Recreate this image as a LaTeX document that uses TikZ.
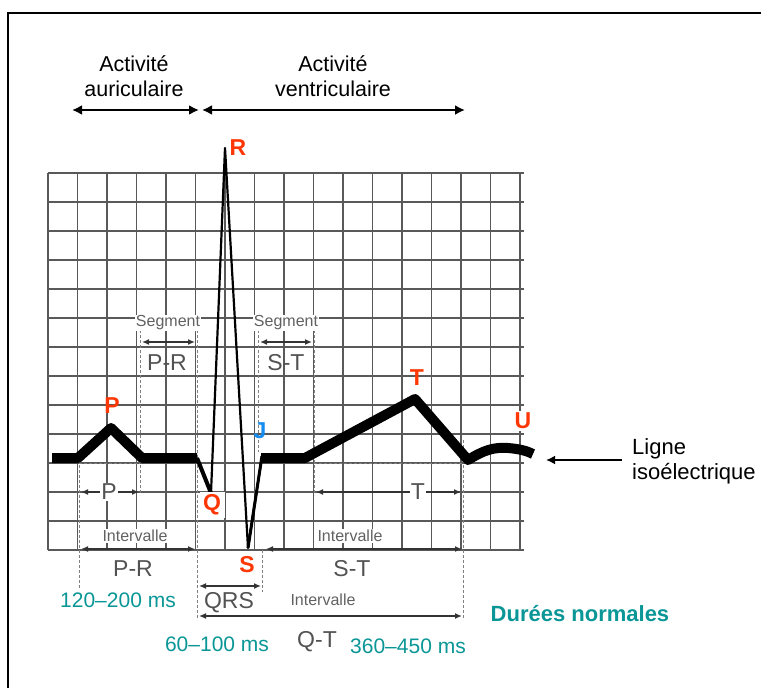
\documentclass[tikz,border=0pt]{standalone}
\usepackage{fontspec}
\setmainfont{Liberation Sans}
\usetikzlibrary{arrows.meta}
\begin{document}
\begin{tikzpicture}[x=1pt, y=-1pt,
    gridline/.style={draw=black!65, line width=1.1pt},
    guide/.style={draw=black!50, line width=0.9pt, dash pattern=on 3pt off 2pt},
    dimarrow/.style={draw=black!80, line width=1.8pt, {Latex[length=7pt,width=6pt]}-{Latex[length=7pt,width=6pt]}},
    bigarrow/.style={line width=2.8pt, {Latex[length=10pt,width=10pt]}-{Latex[length=10pt,width=10pt]}},
    peak/.style={text=mypeak, font=\fontsize{23}{23}\selectfont\bfseries, inner sep=1.5pt},
    greylbl/.style={text=black!68, font=\fontsize{23}{23}\selectfont, inner sep=1pt},
    greysmall/.style={text=black!62, font=\fontsize{16}{16}\selectfont, inner sep=1pt},
    duree/.style={text=myteal, font=\fontsize{21}{21}\selectfont}]
    \definecolor{mypeak}{RGB}{255,55,5}
    \definecolor{myteal}{RGB}{10,150,150}
    \definecolor{myblue}{RGB}{20,140,240}

    \useasboundingbox (0,0) rectangle (761,688);
    \draw[line width=2pt] (8,688) -- (8,13) -- (761,13);

    % paper grid
    \foreach \i in {0,...,16}
        \draw[gridline] (48+29.5*\i,173) -- (48+29.5*\i,550);
    \foreach \j in {0,...,13}
        \draw[gridline] (48,173+29*\j) -- (524,173+29*\j);

    % dashed guides
    \draw[guide] (79,460) -- (79,590);
    \draw[guide] (140,330) -- (140,495);
    \draw[guide] (197,330) -- (197,620);
    \draw[guide] (258,330) -- (258,452);
    \draw[guide] (262,550) -- (262,592);
    \draw[guide] (314,330) -- (314,495);
    \draw[guide] (463,440) -- (463,620);
    \draw[guide] (79,463) -- (140,463);
    \draw[guide] (314,463) -- (463,463);

    % trace
    \draw[line width=10pt, line join=round] (52,458) -- (78,458) -- (111,428) -- (142,458) -- (197,458);
    \draw[line width=2.2pt, line join=round] (197,458) -- (211,493) -- (225,148) -- (248,548) -- (262,456);
    \draw[line width=4pt] (197,458) -- (211,493);
    \draw[line width=3pt] (248,548) -- (262,456);
    \draw[line width=10pt, line join=round] (261,458) -- (305,458) -- (415,399) -- (468,460)
        .. controls (484,450) and (494,447) .. (508,448) .. controls (520,449) and (527,451) .. (533,454);

    % segments
    \draw[dimarrow] (142,342) -- (195,342);
    \node[greysmall, fill=white] (segpr) at (168,323) {Segment};
    \node[greylbl] (pr) at (167,363) {P-R};
    \draw[dimarrow] (260,342) -- (312,342);
    \node[greysmall, fill=white] (segst) at (286,323) {Segment};
    \node[greylbl] (st) at (286,363) {S-T};

    % durations
    \draw[dimarrow] (81,492) -- (139,492);
    \node[greylbl, fill=white] (pdur) at (109,492) {P};
    \draw[dimarrow] (316,492) -- (461,492);
    \node[greylbl, fill=white] (tdur) at (418,492) {T};

    % intervals
    \draw[dimarrow] (81,549) -- (195,549);
    \node[greysmall, fill=white] (intpr) at (135,536) {Intervalle};
    \node[greylbl] (ipr) at (133,569) {P-R};
    \draw[dimarrow] (266,549) -- (462,549);
    \node[greysmall, fill=white] (intst) at (350,536) {Intervalle};
    \node[greylbl] (ist) at (352,569) {S-T};
    \draw[dimarrow] (199,586) -- (261,586);
    \node[greylbl] (qrs) at (229,603) {QRS};
    \draw[dimarrow] (199,616) -- (462,616);
    \node[greysmall] (intqt) at (323,600) {Intervalle};
    \node[greylbl] (iqt) at (317,642) {Q-T};

    % waves
    \node[peak] (r) at (238,148) {R};
    \node[peak] (p) at (112,406) {P};
    \node[peak, text=myblue] (j) at (260,431) {J};
    \node[peak, fill=white, minimum width=25pt, minimum height=26pt] (q) at (212,505) {Q};
    \node[peak, fill=white, minimum width=25pt, minimum height=27pt] (s) at (247,565) {S};
    \node[peak] (t) at (417,378) {T};
    \node[peak, fill=white] (u) at (523,421) {U};

    % activity
    \node[font=\fontsize{21.5}{25}\selectfont, align=center] (auric) at (134,76) {Activité\\auriculaire};
    \node[font=\fontsize{21.5}{25}\selectfont, align=center] (ventr) at (333,76) {Activité\\ventriculaire};
    \coordinate (a0) at (72,110);
    \coordinate (a1) at (199,110);
    \coordinate (a2) at (202,110);
    \coordinate (a3) at (465,110);
    \draw[bigarrow] (a0) -- (a1);
    \draw[bigarrow] (a2) -- (a3);

    % baseline
    \node[font=\fontsize{22}{25}\selectfont, align=left, anchor=west, inner sep=0pt] (ligne) at (632,461) {Ligne\\isoélectrique};
    \coordinate (iso) at (546,460);
    \draw[line width=2.2pt, -{Latex[length=9pt,width=9pt]}] ([xshift=-10pt]ligne.west |- iso) -- (iso);

    % normal values
    \node[duree] (d1) at (118,600) {120–200 ms};
    \node[duree] (d2) at (217,644) {60–100 ms};
    \node[duree] (d3) at (408,646) {360–450 ms};
    \node[duree, font=\fontsize{22}{22}\selectfont\bfseries] (dn) at (580,614) {Durées normales};
\end{tikzpicture}
\end{document}
